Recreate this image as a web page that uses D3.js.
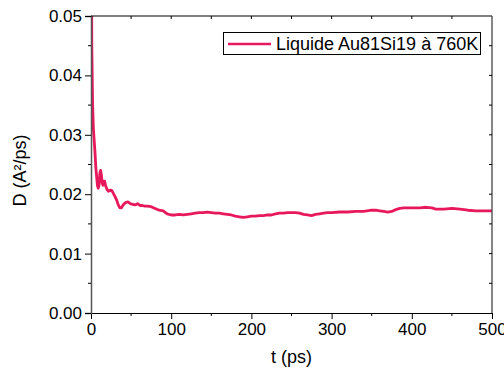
<!doctype html>
<html lang="en">
<head>
    <meta charset="utf-8">
    <title>D vs t</title>
    <script src="https://cdnjs.cloudflare.com/ajax/libs/d3/7.8.5/d3.min.js"></script>
    <style>
        body { margin: 0; background: white; }
        text { font-family: "Liberation Sans", Arial, sans-serif; }
    </style>
</head>
<body>
<script>
    // data
    const tValues = [0, 1, 2, 3, 4, 5, 6, 7, 8, 9, 10, 11, 12, 13, 14, 15, 16, 17, 18, 20, 22, 24, 26, 28,
        30, 32, 34, 36, 38, 40, 43, 46, 49, 52, 55, 58, 61, 64, 67, 70, 75, 80, 85, 90, 95,
        100, 105, 110, 115, 120, 125, 130, 135, 140, 145, 150, 155, 160, 165, 170, 175, 180, 185, 190, 195,
        200, 205, 210, 215, 220, 225, 230, 235, 240, 245, 250, 255, 260, 265, 270, 275, 280, 285, 290, 295,
        300, 310, 320, 330, 340, 350, 355, 360, 365, 370, 375, 380, 385, 390, 400, 410, 418, 425, 430,
        440, 450, 460, 470, 480, 490, 500];
    const dValues = [0.09, 0.045, 0.035, 0.031, 0.029, 0.027, 0.0245, 0.023, 0.0215, 0.021, 0.0215, 0.0235, 0.024, 0.0232, 0.0218, 0.0215, 0.0222, 0.0222, 0.0215, 0.0208, 0.0205, 0.0207, 0.0206, 0.0201,
        0.0196, 0.0190, 0.0182, 0.0177, 0.0177, 0.0182, 0.0186, 0.0187, 0.0184, 0.0183, 0.0182, 0.0184, 0.0181, 0.0181, 0.0180, 0.0180, 0.0179, 0.0176, 0.0173, 0.0172, 0.0167,
        0.0165, 0.0165, 0.0166, 0.0165, 0.0166, 0.0167, 0.0168, 0.0169, 0.0169, 0.0170, 0.0169, 0.0168, 0.0168, 0.0167, 0.0166, 0.0165, 0.0163, 0.0162, 0.0161, 0.0162,
        0.0163, 0.0163, 0.0164, 0.0164, 0.0165, 0.0165, 0.0167, 0.0168, 0.0168, 0.0169, 0.0169, 0.0169, 0.0168, 0.0166, 0.0165, 0.0164, 0.0166, 0.0167, 0.0168, 0.0169,
        0.0169, 0.0170, 0.0170, 0.0171, 0.0171, 0.0173, 0.0173, 0.0172, 0.0171, 0.0170, 0.0171, 0.0174, 0.0176, 0.0177, 0.0177, 0.0177, 0.0178, 0.0177, 0.0175,
        0.0175, 0.0176, 0.0175, 0.0173, 0.0172, 0.0172, 0.0172];
    const xTicks = [0, 100, 200, 300, 400, 500];
    const yTicks = [0, 0.01, 0.02, 0.03, 0.04, 0.05];
    const seriesName = "Liquide Au81Si19 à 760K";

    const width = 504, height = 369;
    const margin = {top: 16, right: 12, bottom: 56, left: 91};
    const lineColor = "#e8185c";

    const x = d3.scaleLinear().domain([0, 500]).range([margin.left, width - margin.right]);
    const y = d3.scaleLinear().domain([0, 0.05]).range([height - margin.bottom, margin.top]);

    const svg = d3.select("body").append("svg")
        .attr("width", width)
        .attr("height", height);

    svg.append("clipPath").attr("id", "clip")
        .append("rect")
        .attr("x", x(0)).attr("y", y(0.05))
        .attr("width", x(500) - x(0)).attr("height", y(0) - y(0.05));

    // the curve
    const points = tValues.map((t, i) => [t, dValues[i]]);
    svg.append("path")
        .datum(points)
        .attr("clip-path", "url(#clip)")
        .attr("fill", "none")
        .attr("stroke", lineColor)
        .attr("stroke-width", 2.8)
        .attr("stroke-linejoin", "round")
        .attr("d", d3.line().x(d => x(d[0])).y(d => y(d[1])));

    // bottom axis
    const xAxis = svg.append("g")
        .attr("transform", `translate(0,${y(0)})`)
        .call(d3.axisBottom(x).tickValues(xTicks).tickSize(6).tickPadding(4).tickFormat(d3.format("d")));
    xAxis.selectAll(".tick text").attr("font-size", 17).attr("fill", "#000");
    xAxis.append("g").selectAll("line")
        .data([50, 150, 250, 350, 450])
        .join("line")
        .attr("x1", d => x(d)).attr("x2", d => x(d))
        .attr("y1", 0).attr("y2", 3)
        .attr("stroke", "#000");

    // left axis
    const yAxis = svg.append("g")
        .attr("transform", `translate(${x(0)},0)`)
        .call(d3.axisLeft(y).tickValues(yTicks).tickSize(6).tickPadding(3).tickFormat(d3.format(".2f")));
    yAxis.select(".domain").attr("stroke", "#555").attr("stroke-width", 1.5);
    yAxis.selectAll(".tick text").attr("font-size", 17).attr("fill", "#000");
    yAxis.append("g").selectAll("line")
        .data([0.005, 0.015, 0.025, 0.035, 0.045])
        .join("line")
        .attr("y1", d => y(d)).attr("y2", d => y(d))
        .attr("x1", 0).attr("x2", -3)
        .attr("stroke", "#000");

    // top and right frame with inward ticks
    svg.append("line")
        .attr("x1", x(0)).attr("x2", x(500)).attr("y1", y(0.05)).attr("y2", y(0.05))
        .attr("stroke", "#000");
    svg.append("line")
        .attr("x1", x(500)).attr("x2", x(500)).attr("y1", y(0.05)).attr("y2", y(0))
        .attr("stroke", "#444").attr("stroke-width", 1.3);
    svg.append("g").selectAll("line")
        .data(d3.range(50, 500, 50))
        .join("line")
        .attr("x1", d => x(d)).attr("x2", d => x(d))
        .attr("y1", y(0.05)).attr("y2", y(0.05) + 3)
        .attr("stroke", "#000");
    svg.append("g").selectAll("line")
        .data([0.005, 0.01, 0.015, 0.02, 0.025, 0.03, 0.035, 0.04, 0.045])
        .join("line")
        .attr("y1", d => y(d)).attr("y2", d => y(d))
        .attr("x1", x(500)).attr("x2", x(500) - 3)
        .attr("stroke", "#000");

    // axis titles
    svg.append("text")
        .attr("x", (x(0) + x(500)) / 2)
        .attr("y", 363)
        .attr("text-anchor", "middle")
        .attr("font-size", 18)
        .text("t (ps)");

    svg.append("text")
        .attr("transform", `translate(26,${(y(0) + y(0.05)) / 2 + 6}) rotate(-90)`)
        .attr("text-anchor", "middle")
        .attr("font-size", 18)
        .text("D (A²/ps)");

    // legend
    const legend = svg.append("g");
    legend.append("rect")
        .attr("x", 223.5).attr("y", 32.5)
        .attr("width", 257).attr("height", 22)
        .attr("fill", "white").attr("stroke", "#000");
    legend.append("line")
        .attr("x1", 228).attr("x2", 271).attr("y1", 44).attr("y2", 44)
        .attr("stroke", lineColor).attr("stroke-width", 2.6);
    legend.append("text")
        .attr("x", 276).attr("y", 50)
        .attr("font-size", 18)
        .text(seriesName);
</script>
</body>
</html>
